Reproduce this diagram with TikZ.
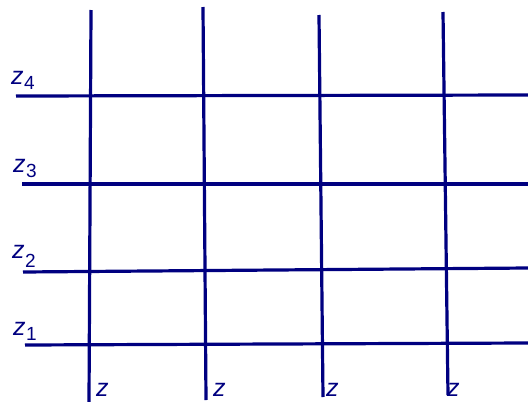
\documentclass[tikz,border=0pt]{standalone}
\usepackage{fontspec}
\setmainfont{Liberation Sans}
\usetikzlibrary{positioning}
\definecolor{gridnavy}{RGB}{0,0,128}
\newcommand{\zlab}[2][5pt]{\textit{z}\hspace{0.5pt}\raisebox{-#1}{\fontsize{19}{22}\selectfont #2}}

\begin{document}
\begin{tikzpicture}[
    x=1pt, y=-1pt,
    every node/.style={inner sep=0pt, text=gridnavy},
    lbl/.style={font=\fontsize{25}{28}\selectfont, anchor=base west},
    wire/.style={draw=gridnavy, line width=3.2pt},
]
    \useasboundingbox (0,0) rectangle (528,402);

    % Horizontal lines with their labels.
    \foreach \i/\xl/\yl/\yr/\xz/\yz/\dz in {4/16/96/95/11/84/5pt, 3/22/184/184/13/172/5pt,
                                           2/23/272/268/12/258/9pt, 1/25/345/343/13/335/5pt} {
        \coordinate (hleft\i) at (\xl,\yl);
        \coordinate (hright\i) at (528,\yr);
        \draw[wire] (hleft\i) -- (hright\i);
        \node[lbl] (zrow\i) at (\xz,\yz) {\zlab[\dz]{\i}};
    }

    % Vertical lines with their labels.
    \foreach \i/\xt/\yt/\xb/\yb/\xz in {1/91/10/89/402/96, 2/203/7/206/400/213,
                                        3/319/15/323/397/326, 4/443/12/448/395/447} {
        \coordinate (vtop\i) at (\xt,\yt);
        \coordinate (vbot\i) at (\xb,\yb);
        \draw[wire] (vtop\i) -- (vbot\i);
        \node[lbl] (zcol\i) at (\xz,396.5) {\textit{z}};
    }
\end{tikzpicture}
\end{document}
